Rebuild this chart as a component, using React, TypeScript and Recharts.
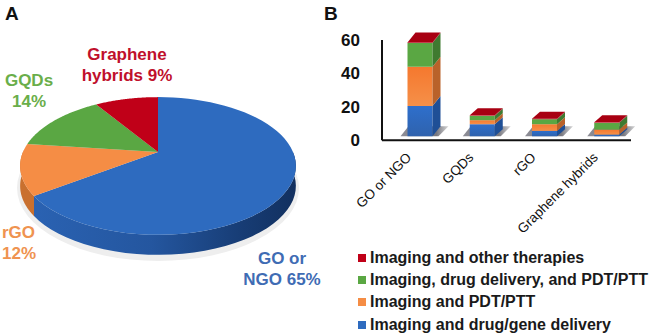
import { Bar, BarChart, Legend, Pie, PieChart, XAxis, YAxis } from "recharts";

const FONT = "'Liberation Sans', Arial, sans-serif";

const pieNames = ["GO or NGO", "rGO", "GQDs", "Graphene hybrids"];
const pieShares = [65, 12, 14, 9];
const pieTopColors = ["#2e6bbf", "#f58d45", "#5aa743", "#c00018"];
const pieWallColors = ["url(#wallBlue)", "#c9702f", "#47853a", "#90000f"];
const pieLabelColors = ["#3f6cb4", "#ef9350", "#6aae4a", "#c0102c"];
const pieLabelLines = [["GO or", "NGO 65%"], ["rGO", "12%"], ["GQDs", "14%"], ["Graphene", "hybrids 9%"]];
const pieLabelPlaces = [
  { x: 282, y: 264, anchor: "middle" },
  { x: 2, y: 238, anchor: "start" },
  { x: 29, y: 86, anchor: "middle" },
  { x: 127, y: 60, anchor: "middle" },
];

const categories = ["GO or NGO", "GQDs", "rGO", "Graphene hybrids"];
const yTicks = [0, 20, 40, 60];
const deliveryValues = [20.5, 9.6, 5.6, 3.4];
const pdtValues = [23.5, 2.4, 4, 3];
const comboValues = [14.2, 2.6, 3, 4];
const otherValues = [0.3, 0.3, 0.3, 0.3];

const seriesNames = [
  "Imaging and drug/gene delivery",
  "Imaging and PDT/PTT",
  "Imaging, drug delivery, and PDT/PTT",
  "Imaging and other therapies",
];
const seriesKeys = ["delivery", "pdt", "combo", "other"];
const seriesFronts = ["url(#barBlue)", "url(#barOrange)", "#5aa743", "#c00018"];
const seriesSides = ["#1f4f96", "#b9622a", "#3f7a30", "#900010"];
const seriesSwatches = ["#2e6bbf", "#f58d45", "#5aa743", "#c00018"];

const barData = categories.map((name, i) => ({
  name,
  delivery: deliveryValues[i],
  pdt: pdtValues[i],
  combo: comboValues[i],
  other: otherValues[i],
}));
const pieData = pieNames.map((name, i) => ({ name, value: pieShares[i] }));

// camera for the tilted pie, worked out from the ellipse in the picture
const TILT_COS = 0.489;
const TILT_SIN = 0.872;
const CAMERA = 580;
const WALL = 20;

function project(cx: number, cy: number, r: number, deg: number) {
  const a = (deg * Math.PI) / 180;
  const px = r * Math.cos(a);
  const py = -r * Math.sin(a);
  const k = 1 / (1 - (py * TILT_SIN) / CAMERA);
  return { x: cx + px * k, y: cy + py * TILT_COS * k };
}

function TiltedSlice(props: any) {
  const { cx, cy, outerRadius, startAngle, endAngle, index } = props;
  const steps = 60;
  const rim = [];
  for (let i = 0; i <= steps; i++) {
    const deg = startAngle + ((endAngle - startAngle) * i) / steps;
    rim.push(project(cx, cy, outerRadius, deg));
  }
  const front = rim.filter((p, i) => {
    const deg = startAngle + ((endAngle - startAngle) * i) / steps;
    const s = Math.sin((deg * Math.PI) / 180);
    return s <= 0.03;
  });
  const top = [`${cx},${cy}`, ...rim.map((p) => `${p.x},${p.y}`)].join(" ");
  const wall = [
    ...front.map((p) => `${p.x},${p.y}`),
    ...front.slice().reverse().map((p) => `${p.x},${p.y + WALL}`),
  ].join(" ");
  return (
    <g>
      {front.length > 1 && <polygon points={wall} fill={pieWallColors[index]} />}
      <polygon points={top} fill={pieTopColors[index]} />
    </g>
  );
}

function sliceLabel(props: any) {
  const place = pieLabelPlaces[props.index];
  return (
    <text
      key={props.index}
      x={place.x}
      y={place.y}
      textAnchor={place.anchor}
      fontFamily={FONT}
      fontSize={17}
      fontWeight="bold"
      fill={pieLabelColors[props.index]}
    >
      {pieLabelLines[props.index].map((line, i) => (
        <tspan key={line} x={place.x} dy={i === 0 ? 0 : 20.5}>
          {line}
        </tspan>
      ))}
    </text>
  );
}

const DEPTH_X = 8;
const FLOOR_LIFT = 4;
const BAR_SHIFT = 6.5;

function makeBoxShape(layer: number) {
  return function BoxShape(props: any) {
    const { x, y, width, height, index } = props;
    const left = x + BAR_SHIFT;
    const right = left + width;
    // tall box is seen from further below, so its lid looks deeper
    const depthY = index === 0 ? 10 : 7;
    // the bars stand on a floor a little above the axis line
    const bottom = layer === 0 ? y + height - FLOOR_LIFT : y + height;
    const side = `${right},${y} ${right + DEPTH_X},${y - depthY} ${right + DEPTH_X},${bottom - depthY} ${right},${bottom}`;
    const top = `${left},${y} ${left + DEPTH_X},${y - depthY} ${right + DEPTH_X},${y - depthY} ${right},${y}`;
    const shadow = `${left - 7},${bottom} ${left + 1},${bottom - 10} ${right + DEPTH_X + 8},${bottom - 10} ${right + 6},${bottom}`;
    return (
      <g>
        {layer === 0 && <polygon points={shadow} fill="url(#floorShadow)" />}
        <rect x={left} y={y} width={width} height={Math.max(bottom - y, 0)} fill={seriesFronts[layer]} />
        <polygon points={side} fill={seriesSides[layer]} />
        {layer === 3 && <polygon points={top} fill="#a80012" />}
      </g>
    );
  };
}

function CategoryTick(props: any) {
  const { x, y, payload } = props;
  const tx = x - 1;
  return (
    <text
      x={tx}
      y={y}
      transform={`rotate(-45 ${tx} ${y})`}
      textAnchor="end"
      fontFamily={FONT}
      fontSize={13.5}
      fill="#111"
    >
      {payload.value}
    </text>
  );
}

function LegendRows(props: any) {
  return (
    <div style={{ fontFamily: FONT }}>
      {(props.payload ?? []).map((row: any) => (
        <div
          key={row.value}
          style={{ display: "flex", alignItems: "center", height: 22.2, fontSize: 16, fontWeight: "bold", color: "#1a1a1a", whiteSpace: "nowrap" }}
        >
          <span style={{ width: 8, height: 8, marginRight: 4, background: seriesSwatches[seriesNames.indexOf(row.value)] }} />
          {row.value}
        </div>
      ))}
    </div>
  );
}

export default function App() {
  return (
    <div style={{ position: "absolute", left: 0, top: 0, width: 649, height: 336, background: "#fff", overflow: "hidden" }}>
      <div style={{ position: "absolute", left: 0, top: 0 }}>
        <PieChart width={330} height={336} margin={{ top: 0, right: 0, bottom: 0, left: 0 }}>
          <defs>
            <linearGradient id="wallBlue" x1="0" y1="0" x2="1" y2="0">
              <stop offset="0" stopColor="#2a62b2" />
              <stop offset="0.45" stopColor="#24569f" />
              <stop offset="0.8" stopColor="#173c74" />
              <stop offset="1" stopColor="#12305f" />
            </linearGradient>
          </defs>
          <ellipse cx={158} cy={188} rx={141} ry={73} fill="#eeeeee" />
          <Pie
            data={pieData}
            dataKey="value"
            cx={158}
            cy={152}
            outerRadius={135}
            startAngle={90}
            endAngle={-270}
            stroke="none"
            shape={TiltedSlice}
            label={sliceLabel}
            labelLine={false}
            isAnimationActive={false}
          />
        </PieChart>
      </div>

      <div style={{ position: "absolute", left: 330, top: 0 }}>
        <BarChart
          width={319}
          height={336}
          data={barData}
          barSize={25}
          margin={{ top: 40, right: 18, bottom: 47, left: 2 }}
        >
          <defs>
            <linearGradient id="barBlue" x1="0" y1="0" x2="0" y2="1">
              <stop offset="0" stopColor="#2e6fcc" />
              <stop offset="1" stopColor="#2f62ad" />
            </linearGradient>
            <linearGradient id="barOrange" x1="0" y1="0" x2="0" y2="1">
              <stop offset="0" stopColor="#f5782e" />
              <stop offset="1" stopColor="#f59049" />
            </linearGradient>
            <linearGradient id="floorShadow" x1="0" y1="0" x2="1" y2="0">
              <stop offset="0" stopColor="#8d8d96" />
              <stop offset="0.75" stopColor="#77777f" />
              <stop offset="1" stopColor="#d8d8d8" />
            </linearGradient>
          </defs>
          <XAxis
            dataKey="name"
            interval={0}
            axisLine={{ stroke: "#111", strokeWidth: 2 }}
            tickLine={false}
            tick={CategoryTick}
            tickMargin={12}
            height={60}
          />
          <YAxis
            width={50}
            domain={[0, 60]}
            ticks={yTicks}
            axisLine={{ stroke: "#111", strokeWidth: 2 }}
            tickLine={false}
            tick={{ fontFamily: FONT, fontSize: 17, fontWeight: "bold", fill: "#111" }}
            tickMargin={16}
          />
          {seriesKeys.map((key, i) => (
            <Bar
              key={key}
              dataKey={key}
              name={seriesNames[i]}
              stackId="all"
              shape={makeBoxShape(i)}
              legendType="square"
              isAnimationActive={false}
            />
          ))}
          <Legend
            layout="vertical"
            content={LegendRows}
            itemSorter={(item: any) => -seriesNames.indexOf(item.value)}
            wrapperStyle={{ position: "absolute", left: 28, top: 247, width: 290 }}
          />
        </BarChart>
      </div>

      <div style={{ position: "absolute", left: 5, top: 3, fontFamily: FONT, fontSize: 19, fontWeight: "bold", color: "#111" }}>A</div>
      <div style={{ position: "absolute", left: 324, top: 3, fontFamily: FONT, fontSize: 19, fontWeight: "bold", color: "#111" }}>B</div>
    </div>
  );
}
